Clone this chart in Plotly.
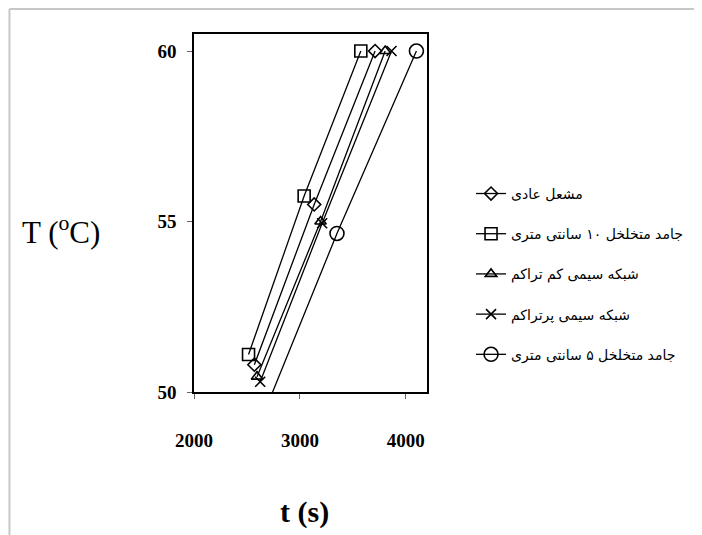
import plotly.graph_objects as go

names = [
    "مشعل عادی",
    "جامد متخلخل ۱۰ سانتی متری",
    "شبکه سیمی کم تراکم",
    "شبکه سیمی پرتراکم",
    "جامد متخلخل ۵ سانتی متری",
]
t_diamond = [2570, 3135, 3710]
T_diamond = [50.8, 55.5, 60.0]
t_square = [2515, 3040, 3575]
T_square = [51.1, 55.75, 60.0]
t_triangle = [2595, 3195, 3805]
T_triangle = [50.45, 55.0, 60.0]
t_cross = [2625, 3210, 3865]
T_cross = [50.3, 54.95, 60.0]
t_circle = [2690, 3350, 4100]
T_circle = [49.6, 54.65, 60.0]

series = [
    (t_diamond, T_diamond, "diamond-open", 10),
    (t_square, T_square, "square-open", 12),
    (t_triangle, T_triangle, "triangle-up-open", 10),
    (t_cross, T_cross, "x-thin-open", 10),
    (t_circle, T_circle, "circle-open", 14),
]

fig = go.Figure()
for i, (name, (xs, ys, sym, sz)) in enumerate(zip(names, series)):
    fig.add_trace(go.Scatter(
        x=xs, y=ys, name=name, mode="lines+markers",
        line=dict(color="black", width=1.3),
        marker=dict(symbol=sym, size=sz, color="black",
                    line=dict(color="black", width=1.6)),
        legendgroup=str(i), cliponaxis=True,
    ))

axis_common = dict(
    showgrid=False, zeroline=False, showline=True, linecolor="black",
    linewidth=1.5, mirror=True, ticks="outside", ticklen=5,
    tickcolor="#666", tickwidth=1,
    tickfont=dict(family="Liberation Serif", size=19, color="black", weight="bold"),
)
fig.update_xaxes(range=[2000, 4200], tickvals=[2000, 3000, 4000],
                 ticklabelstandoff=25, **axis_common)
fig.update_yaxes(range=[50, 60.5], tickvals=[50, 55, 60],
                 ticklabelstandoff=7, **axis_common)

fig.update_layout(
    width=694, height=527,
    margin=dict(l=186, r=275, t=26, b=143),
    plot_bgcolor="white", paper_bgcolor="white",
    showlegend=True,
    legend=dict(
        x=1.189, y=0.598, xanchor="left", yanchor="top",
        traceorder="grouped", tracegroupgap=19,
        font=dict(family="DejaVu Sans", size=14, color="black"),
        bgcolor="rgba(0,0,0,0)", itemwidth=30,
    ),
    annotations=[
        dict(text="T (<sup>o</sup>C)", xref="paper", yref="paper",
             x=-0.571, y=0.45, xanchor="center", yanchor="middle",
             showarrow=False,
             font=dict(family="Liberation Serif", size=31, color="black")),
        dict(text="<b>t (s)</b>", xref="paper", yref="paper",
             x=0.476, y=-0.335, xanchor="center", yanchor="middle",
             showarrow=False,
             font=dict(family="Liberation Serif", size=30, color="black")),
    ],
    shapes=[
        dict(type="line", xref="paper", yref="paper", x0=-0.792, x1=2.3,
             y0=1.07, y1=1.07, line=dict(color="#c8c8c8", width=2)),
        dict(type="line", xref="paper", yref="paper", x0=-0.792, x1=-0.792,
             y0=1.07, y1=-0.5, line=dict(color="#c8c8c8", width=2)),
    ],
)

fig.write_html("out.html")
